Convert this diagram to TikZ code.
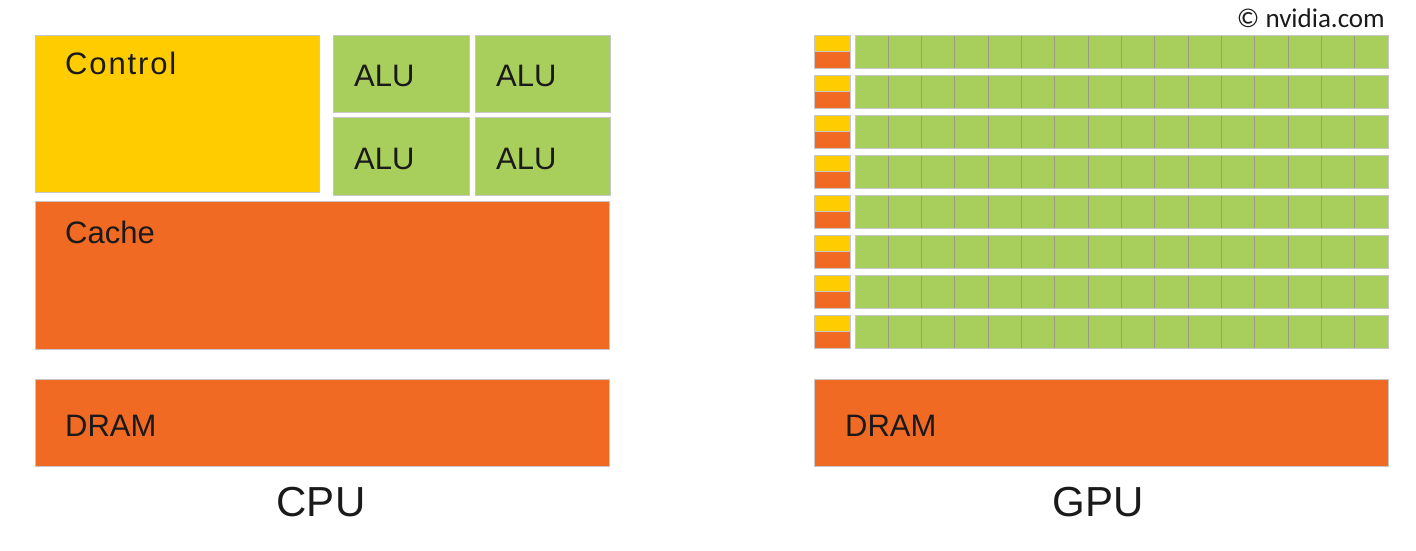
\documentclass[tikz,border=0pt]{standalone}
\usepackage{fontspec}
\setmainfont{Liberation Sans}
\newfontfamily\calfont{Carlito}
\definecolor{ctlyellow}{HTML}{FFCC00}
\definecolor{memorange}{HTML}{F06A24}
\definecolor{alugreen}{HTML}{A8CF5C}
\definecolor{edgegray}{HTML}{C8C8C8}
\definecolor{cellgray}{HTML}{9C9C84}
\definecolor{inkblack}{HTML}{1A1A1A}
\tikzset{
  blk/.style={draw=edgegray, line width=1pt, anchor=north west, inner sep=0pt, outer sep=0pt},
  lbl/.style={anchor=base west, inner sep=0pt, font=\fontsize{31}{37}\selectfont, text=inkblack},
  ttl/.style={anchor=base, inner sep=0pt, font=\fontsize{42}{50}\selectfont, text=inkblack},
  cellbox/.style={draw=cellgray, line width=0.9pt, fill=alugreen, anchor=north west, inner sep=0pt, outer sep=0pt,
                  minimum width=33.3125pt, minimum height=33pt},
}
\begin{document}
\begin{tikzpicture}[x=1pt,y=-1pt]
\useasboundingbox (0,0) rectangle (1416,550);
% ---------------- CPU ----------------
\node[blk, fill=ctlyellow, minimum width=284pt, minimum height=157pt] (control) at (35,35) {};
\node[blk, fill=alugreen, minimum width=136pt, minimum height=77pt] (alu1) at (333,35) {};
\node[blk, fill=alugreen, minimum width=135pt, minimum height=77pt] (alu2) at (475,35) {};
\node[blk, fill=alugreen, minimum width=136pt, minimum height=78pt] (alu3) at (333,117) {};
\node[blk, fill=alugreen, minimum width=135pt, minimum height=78pt] (alu4) at (475,117) {};
\node[blk, fill=memorange, minimum width=574pt, minimum height=148pt] (cache) at (35,201) {};
\node[blk, fill=memorange, minimum width=574pt, minimum height=87pt] (dramc) at (35,379) {};
\node[lbl, font=\fontsize{31}{37}\selectfont\addfontfeature{LetterSpace=6}] (controltxt) at (65,74) {Control};
\node[lbl] (alu1txt) at (354,86) {ALU};
\node[lbl] (alu2txt) at (496,86) {ALU};
\node[lbl] (alu3txt) at (354,169) {ALU};
\node[lbl] (alu4txt) at (496,169) {ALU};
\node[lbl] (cachetxt) at (65,243) {Cache};
\node[lbl] (dramctxt) at (65,436) {DRAM};
\node[ttl] (cputxt) at (321,516) {CPU};
% ---------------- GPU ----------------
\foreach \r in {0,...,7}{
  \pgfmathsetmacro{\yy}{35+40*\r}
  \node[blk, fill=ctlyellow, minimum width=36pt, minimum height=16.5pt] (ctl\r) at (814,\yy) {};
  \node[blk, fill=memorange, minimum width=36pt, minimum height=16.5pt] (mem\r) at (ctl\r.south west) {};
  \foreach \c in {0,...,15}{
    \pgfmathsetmacro{\xx}{855+33.3125*\c}
    \node[cellbox] (cell\r-\c) at (\xx,\yy) {};
  }
  \draw[edgegray, line width=1pt] (cell\r-0.north west) rectangle (cell\r-15.south east);
}
\node[blk, fill=memorange, minimum width=574pt, minimum height=87pt] (dramg) at (814,379) {};
\node[lbl] (dramgtxt) at (845,436) {DRAM};
\node[ttl] (gputxt) at (1098,516) {GPU};
\node[anchor=base east, inner sep=0pt, font=\calfont\fontsize{27}{32}\selectfont, text=inkblack] (credit) at (1385,27) {© nvidia.com};
\end{tikzpicture}
\end{document}
